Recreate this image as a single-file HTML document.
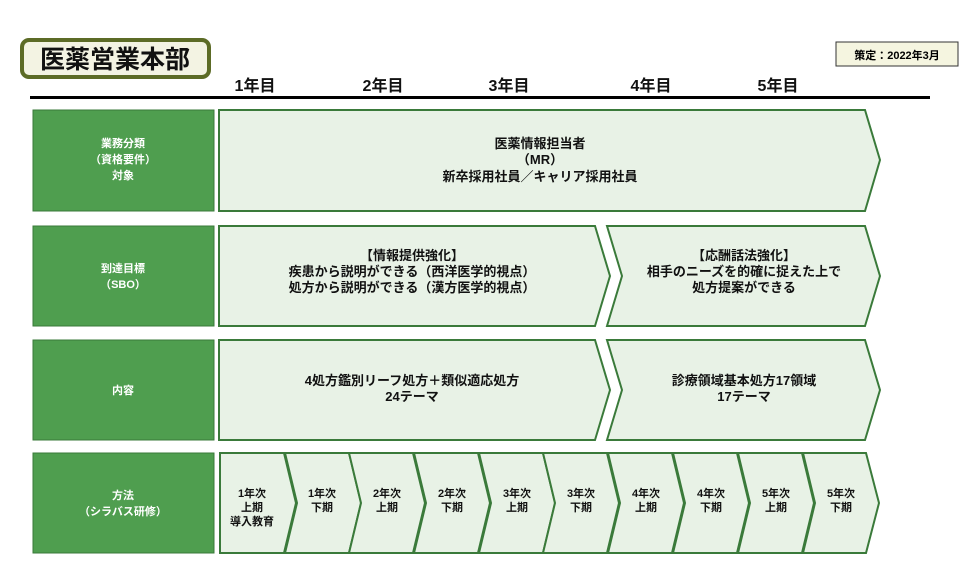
<!DOCTYPE html>
<html><head><meta charset="utf-8"><style>
body{margin:0;background:#fff;width:972px;height:580px;overflow:hidden;font-family:"Liberation Sans","Noto Sans CJK JP",sans-serif}
</style></head><body>
<svg width="972" height="580" xmlns="http://www.w3.org/2000/svg" font-family="Liberation Sans, Noto Sans CJK JP, sans-serif" font-weight="bold">
<rect x="22" y="40" width="187" height="37" rx="7" fill="#f3f3e3" stroke="#5c6b26" stroke-width="4"/>
<text x="115" y="68" font-size="25" text-anchor="middle" fill="#111">医薬営業本部</text>
<rect x="836" y="42" width="122" height="24" fill="#f5f5e0" stroke="#333" stroke-width="1"/>
<text x="897" y="59" font-size="11" text-anchor="middle">策定：2022年3月</text>
<g font-size="16" text-anchor="middle" fill="#111">
<text x="255" y="91">1年目</text><text x="383" y="91">2年目</text><text x="509" y="91">3年目</text><text x="651" y="91">4年目</text><text x="778" y="91">5年目</text>
</g>
<rect x="30" y="96" width="900" height="3" fill="#000"/>
<g fill="#4f9e4f" stroke="#3a7a3a" stroke-width="1">
<rect x="33" y="110" width="181" height="101"/><rect x="33" y="226" width="181" height="100"/>
<rect x="33" y="340" width="181" height="100"/><rect x="33" y="453" width="181" height="100"/>
</g>
<g fill="#fff" font-size="11" text-anchor="middle">
<text x="123" y="147">業務分類</text><text x="123" y="163">（資格要件）</text><text x="123" y="179">対象</text>
<text x="123" y="272">到達目標</text><text x="123" y="288">（SBO）</text>
<text x="123" y="394">内容</text>
<text x="123" y="499">方法</text><text x="123" y="515">（シラバス研修）</text>
</g>
<g fill="#e8f2e6" stroke="#3a7a3a" stroke-width="2">
<polygon points="219,110 865,110 880,160 865,211 219,211"/>
<polygon points="219,226 595,226 610,276 595,326 219,326"/>
<polygon points="607,226 865,226 880,276 865,326 607,326 622,276"/>
<polygon points="219,340 595,340 610,390 595,440 219,440"/>
<polygon points="607,340 865,340 880,390 865,440 607,440 622,390"/>
<polygon points="220,453 284,453 296,503 284,553 220,553"/>
<polygon points="285,453 349,453 361,503 349,553 285,553 297,503"/>
<polygon points="349,453 413,453 425,503 413,553 349,553 361,503"/>
<polygon points="414,453 478,453 490,503 478,553 414,553 426,503"/>
<polygon points="479,453 543,453 555,503 543,553 479,553 491,503"/>
<polygon points="543,453 607,453 619,503 607,553 543,553 555,503"/>
<polygon points="608,453 672,453 684,503 672,553 608,553 620,503"/>
<polygon points="673,453 737,453 749,503 737,553 673,553 685,503"/>
<polygon points="738,453 802,453 814,503 802,553 738,553 750,503"/>
<polygon points="803,453 866,453 879,503 866,553 803,553 815,503"/>
</g>
<g fill="#111" font-size="13" text-anchor="middle">
<text x="540" y="148">医薬情報担当者</text><text x="540" y="164">（MR）</text><text x="540" y="181">新卒採用社員／キャリア採用社員</text>
<text x="412" y="260">【情報提供強化】</text><text x="412" y="276">疾患から説明ができる（西洋医学的視点）</text><text x="412" y="292">処方から説明ができる（漢方医学的視点）</text>
<text x="744" y="260">【応酬話法強化】</text><text x="744" y="276">相手のニーズを的確に捉えた上で</text><text x="744" y="292">処方提案ができる</text>
<text x="412" y="385">4処方鑑別リーフ処方＋類似適応処方</text><text x="412" y="401">24テーマ</text>
<text x="744" y="385">診療領域基本処方17領域</text><text x="744" y="401">17テーマ</text>
</g>
<g fill="#111" font-size="11" text-anchor="middle">
<text x="252" y="497">1年次</text><text x="252" y="511">上期</text><text x="252" y="525">導入教育</text>
<text x="322" y="497">1年次</text><text x="322" y="511">下期</text>
<text x="387" y="497">2年次</text><text x="387" y="511">上期</text>
<text x="452" y="497">2年次</text><text x="452" y="511">下期</text>
<text x="517" y="497">3年次</text><text x="517" y="511">上期</text>
<text x="581" y="497">3年次</text><text x="581" y="511">下期</text>
<text x="646" y="497">4年次</text><text x="646" y="511">上期</text>
<text x="711" y="497">4年次</text><text x="711" y="511">下期</text>
<text x="776" y="497">5年次</text><text x="776" y="511">上期</text>
<text x="841" y="497">5年次</text><text x="841" y="511">下期</text>
</g>
</svg>
</body></html>
